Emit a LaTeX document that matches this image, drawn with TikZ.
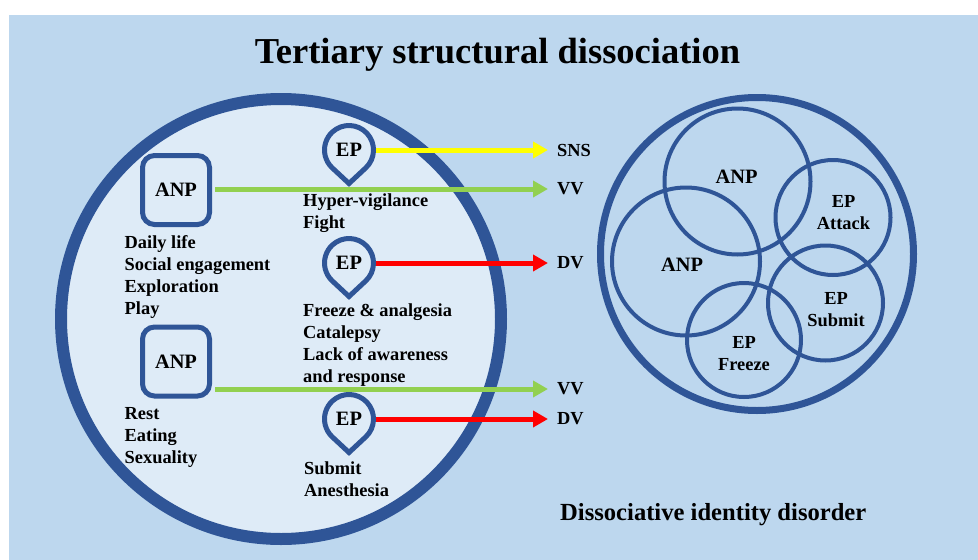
\documentclass[tikz,border=0pt]{standalone}
\usepackage{fontspec}
\setmainfont{Liberation Serif}
\usetikzlibrary{arrows.meta}
\definecolor{bgblue}{HTML}{BDD7EE}
\definecolor{inblue}{HTML}{DEEBF7}
\definecolor{dkblue}{HTML}{2F5597}
\definecolor{arrgreen}{HTML}{92D050}
\definecolor{arryellow}{HTML}{FFFF00}
\definecolor{arrred}{HTML}{FF0000}
\pgfdeclarelayer{back}
\pgfdeclarelayer{mid}
\pgfsetlayers{back,mid,main}
\begin{document}
\begin{tikzpicture}[x=1pt,y=1pt,
  txt/.style={font=\fontsize{18.4}{22}\selectfont\bfseries, inner sep=0pt, align=left, anchor=north west},
  ctxt/.style={font=\fontsize{18.4}{22}\selectfont\bfseries, inner sep=0pt, align=center, anchor=north},
  big/.style={font=\fontsize{20.4}{24}\selectfont\bfseries, inner sep=0pt},
  lab/.style={font=\fontsize{18.4}{22}\selectfont\bfseries, inner sep=0pt, anchor=west},
  anpbox/.style={draw=dkblue, line width=5pt, fill=inblue, rounded corners=12pt,
    minimum width=67pt, minimum height=69pt, inner sep=0pt, font=\fontsize{20.4}{24}\selectfont\bfseries},
  pinshape/.style={draw=dkblue, line width=5pt, fill=inblue},
  eptext/.style={circle, inner sep=0pt, outer sep=0pt, minimum size=54pt, font=\fontsize{20.4}{24}\selectfont\bfseries},
  conn/.style={line width=5pt, -{Triangle[length=15pt,width=16pt]}},
  ring/.style={draw=dkblue, line width=4pt},
]
\useasboundingbox (0,0) rectangle (978,-560);
\begin{pgfonlayer}{back}
  \fill[white] (0,0) rectangle (978,-560);
  \fill[bgblue] (9,-15) rectangle (978,-560);
  \draw[draw=dkblue, fill=inblue, line width=12pt] (281,-319) circle[radius=220pt];
\end{pgfonlayer}

\node[font=\fontsize{36.5}{40}\selectfont\bfseries, inner sep=0pt, anchor=base] (title) at (497.5,-63) {Tertiary structural dissociation};

% ANP boxes
\node[anpbox] (anp1) at (176,-190) {ANP};
\node[anpbox] (anp2) at (176,-361.5) {ANP};

% EP pins
\coordinate (p1) at (349,-150);
\coordinate (p2) at (349,-263);
\coordinate (p3) at (349,-419);
\foreach \p in {p1,p2,p3}
  \draw[pinshape] (\p) ++(-47:24.5pt) arc[start angle=-47,end angle=227,radius=24.5pt]
    -- ([yshift=-33.5pt]\p) -- cycle;
\node[eptext] (ep1) at (p1) {EP};
\node[eptext] (ep2) at (p2) {EP};
\node[eptext] (ep3) at (p3) {EP};

% text blocks
\node[txt] (t1) at (124.5,-235.5) {Daily life\\Social engagement\\Exploration\\Play};
\node[txt] (t2) at (124.5,-407) {Rest\\Eating\\Sexuality};
\node[txt] (t3) at (303,-193.5) {Hyper-vigilance\\Fight};
\node[txt] (t4) at (303,-303.5) {Freeze \& analgesia\\Catalepsy\\Lack of awareness\\and response};
\node[txt] (t5) at (304,-461.5) {Submit\\Anesthesia};

% labels
\node[lab] (sns) at (557,-150) {SNS};
\node[lab] (vv1) at (557,-189) {VV};
\node[lab] (dv1) at (557,-263) {DV};
\node[lab] (vv2) at (557,-389) {VV};
\node[lab] (dv2) at (557,-419) {DV};

\begin{pgfonlayer}{mid}
  \draw[conn, arryellow, shorten >=9pt] (ep1.east) -- (ep1.east -| sns.west);
  \draw[conn, arrgreen, shorten >=9pt] ([xshift=3pt,yshift=1pt]anp1.east) -- ([yshift=1pt]anp1.east -| vv1.west);
  \draw[conn, arrred, shorten >=9pt] (ep2.east) -- (ep2.east -| dv1.west);
  \coordinate (g2) at ([xshift=3pt,yshift=-27.5pt]anp2.east);
  \draw[conn, arrgreen, shorten >=9pt] (g2) -- (g2 -| vv2.west);
  \draw[conn, arrred, shorten >=9pt] (ep3.east) -- (ep3.east -| dv2.west);
\end{pgfonlayer}

% right diagram
\draw[draw=dkblue, line width=7pt] (757,-254) circle[radius=156.5pt];
\draw[ring] (737.5,-181.5) circle[radius=73pt];
\draw[ring] (686,-261.5) circle[radius=74pt];
\draw[ring] (833,-217.5) circle[radius=57.5pt];
\draw[ring] (825.5,-303) circle[radius=57.5pt];
\draw[ring] (744,-340) circle[radius=57pt];
\node[big] (ranp1) at (736.5,-176.5) {ANP};
\node[big] (ranp2) at (682,-264.5) {ANP};
\node[ctxt] (rat) at (843.5,-195) {EP\\Attack};
\node[ctxt] (rsu) at (836,-292) {EP\\Submit};
\node[ctxt] (rfr) at (744,-336) {EP\\Freeze};

\node[font=\fontsize{24.6}{28}\selectfont\bfseries, inner sep=0pt, anchor=base west] (did) at (560,-520) {Dissociative identity disorder};
\end{tikzpicture}
\end{document}
